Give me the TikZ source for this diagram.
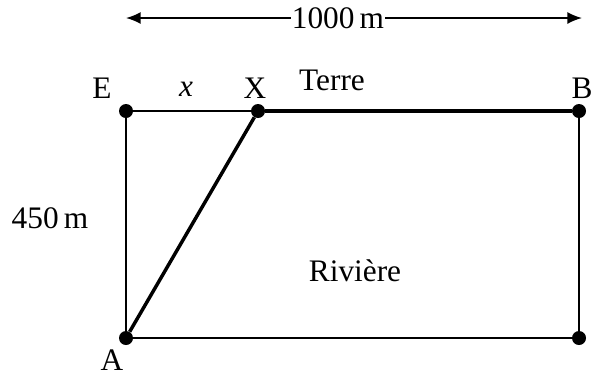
\documentclass[tikz,border=0pt]{standalone}
\usepackage{fontspec}
\setmainfont{Liberation Serif}
\usetikzlibrary{arrows.meta}

\tikzset{
  pt/.style={circle, fill=black, inner sep=0pt, minimum size=10.5pt},
  lbl/.style={font=\fontsize{23.5}{26}\selectfont, inner sep=1pt},
  thinline/.style={line width=1.3pt},
  thickline/.style={line width=2.6pt},
}

\begin{document}
\begin{tikzpicture}[x=0.75pt, y=-0.75pt, >={Latex[length=11pt,width=9pt]}]
  \useasboundingbox (0,0) rectangle (595,376);
  % corner points
  \node[pt] (E) at (126,111) {};
  \node[pt] (X) at (258,111) {};
  \node[pt] (B) at (579,111) {};
  \node[pt] (A) at (126,338) {};
  \node[pt] (C) at (579,338) {};
  % sides of the field
  \draw[thinline] (E) -- (X);
  \draw[thinline] (E) -- (A);
  \draw[thinline] (A) -- (C);
  \draw[thinline] (C) -- (B);
  \draw[thickline] (A) -- (X);
  \draw[thickline] (X) -- (B);
  % top dimension
  \coordinate (L) at (126,18);
  \coordinate (R) at (582,18);
  \draw[thinline, <->] (L) -- (R)
    node[midway, lbl, fill=white, inner sep=0.5pt, xshift=-12pt] {1000\,m};
  % labels
  \node[lbl] at (102,88) {E};
  \node[lbl] at (186,89) {\textit{x}};
  \node[lbl] at (255,88) {X};
  \node[lbl] at (582,88) {B};
  \node[lbl] at (332,80) {Terre};
  \node[lbl] at (50,218) {450\,m};
  \node[lbl] at (355,271) {Rivière};
  \node[lbl] at (112,360) {A};
\end{tikzpicture}
\end{document}
